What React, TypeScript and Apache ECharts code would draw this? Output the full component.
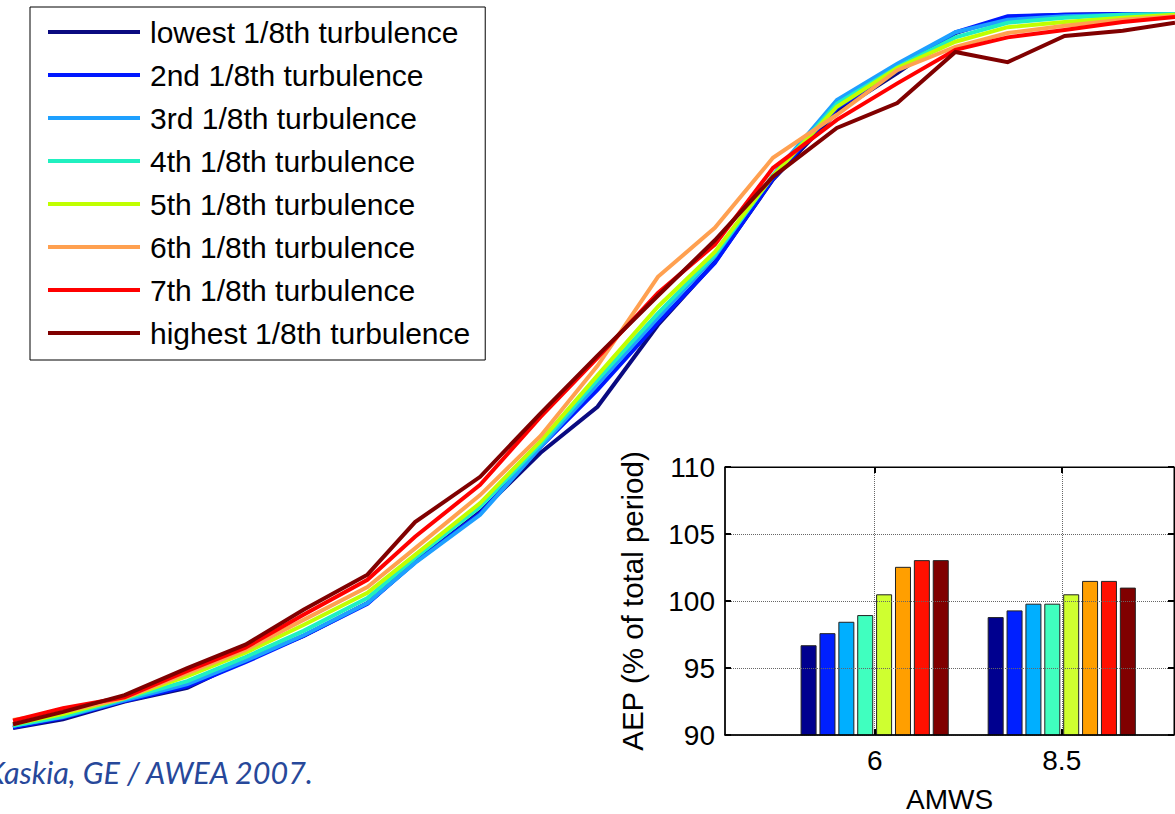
import React, { useEffect, useRef } from 'react';
import * as echarts from 'echarts';

// ---------- data ----------
const seriesNames = [
  'lowest 1/8th turbulence',
  '2nd 1/8th turbulence',
  '3rd 1/8th turbulence',
  '4th 1/8th turbulence',
  '5th 1/8th turbulence',
  '6th 1/8th turbulence',
  '7th 1/8th turbulence',
  'highest 1/8th turbulence',
];

const lineColors = ['#0A0A80', '#0018FF', '#1EA0FF', '#20F0C0', '#C0FF00', '#FFA050', '#FF0000', '#800000'];
const barColors = ['#00008F', '#0020FF', '#00AFFF', '#40FFBF', '#CFFF30', '#FF9F00', '#FF1000', '#800000'];

// wind speed bins (m/s) of the power curves
const windSpeeds = [3, 3.43, 3.96, 4.5, 5, 5.5, 6.05, 6.46, 7.02, 7.54, 8.03, 8.55, 9.04, 9.54, 10.09, 10.61, 11.11, 11.56, 12.05, 12.55, 13];

// normalised power (% of rated) per turbulence class
const powerLowest = [2.2, 3.4, 5.8, 7.7, 11.5, 14.8, 19.3, 24.9, 31.8, 39.9, 46.2, 57.4, 66.0, 77.3, 86.6, 91.9, 97.4, 99.6, 99.9, 100, 100];
const power2nd = [2.3, 3.6, 5.9, 7.9, 11.2, 14.8, 19.2, 24.9, 31.6, 40.7, 48.5, 57.7, 65.9, 77.4, 87.1, 92.3, 97.5, 99.7, 99.9, 100, 100];
const power3rd = [2.5, 3.7, 6.0, 8.2, 11.4, 14.9, 19.3, 24.8, 31.4, 40.7, 49.3, 58.4, 66.8, 77.9, 88.2, 93.2, 97.5, 99.2, 99.7, 99.9, 100];
const power4th = [2.5, 3.8, 6.2, 8.6, 11.9, 15.5, 20.0, 25.5, 32.5, 41.1, 49.9, 59.0, 67.0, 77.8, 87.7, 92.7, 96.8, 98.8, 99.5, 99.9, 100];
const power5th = [2.7, 4.1, 6.3, 9.3, 12.5, 16.3, 20.7, 25.9, 33.0, 41.5, 50.5, 59.9, 67.4, 77.8, 87.3, 92.6, 96.2, 98.2, 98.9, 99.5, 99.9];
const power6th = [3.3, 4.4, 6.3, 9.7, 12.9, 17.0, 21.5, 26.8, 34.1, 42.2, 51.8, 64.0, 70.7, 80.3, 86.2, 92.3, 95.5, 97.4, 98.4, 99.2, 99.7];
const power7th = [3.2, 4.9, 6.4, 10.0, 13.2, 17.7, 22.5, 28.4, 35.5, 44.8, 52.9, 61.8, 68.4, 78.9, 85.5, 90.5, 95.1, 96.8, 97.8, 98.9, 99.6];
const powerHighest = [2.7, 4.4, 6.7, 10.4, 13.6, 18.4, 23.2, 30.4, 36.6, 45.3, 53.2, 61.4, 69.0, 77.7, 84.4, 87.8, 94.8, 93.4, 97.0, 97.7, 98.8];
const powerCurves = [powerLowest, power2nd, power3rd, power4th, power5th, power6th, power7th, powerHighest];

// inset: AEP (% of total period) per AMWS group
const amwsGroups = [6, 8.5];
const aepAt6 = [96.7, 97.6, 98.45, 98.95, 100.5, 102.55, 103.05, 103.05];
const aepAt85 = [98.8, 99.3, 99.8, 99.8, 100.5, 101.5, 101.5, 101.0];
const aepTickStep = 5;
const aepMin = 90;
const aepMax = 110;

const caption = 'Kaskia, GE / AWEA 2007.';

const FONT = '"Liberation Sans", Arial, Helvetica, sans-serif';

export default function App() {
  const ref = useRef<HTMLDivElement>(null);

  useEffect(() => {
    if (!ref.current) return;
    const chart = echarts.init(ref.current, undefined, { renderer: 'svg' });

    const lineSeries = powerCurves.map((vals, i) => ({
      name: seriesNames[i],
      type: 'line',
      xAxisIndex: 0,
      yAxisIndex: 0,
      data: windSpeeds.map((x, j) => [x, vals[j]]),
      symbol: 'none',
      clip: false,
      color: lineColors[i],
      lineStyle: { color: lineColors[i], width: 4, cap: 'butt', join: 'miter' },
      z: 2 + i * 0.01,
    }));

    const barSeries = seriesNames.map((n, i) => ({
      name: n + ' (AEP)',
      type: 'bar',
      xAxisIndex: 1,
      yAxisIndex: 1,
      data: [
        [amwsGroups[0], aepAt6[i]],
        [amwsGroups[1], aepAt85[i]],
      ],
      barWidth: 16,
      barGap: '18%',
      itemStyle: { color: barColors[i], borderColor: '#222', borderWidth: 1 },
      z: 5,
    }));

    const axisTextStyle = { fontSize: 28, color: '#000', fontFamily: FONT };

    chart.setOption({
      animation: false,
      backgroundColor: '#fff',
      textStyle: { fontFamily: FONT },
      grid: [
        { left: 13, top: 14, width: 1162, height: 730, containLabel: false },
        {
          left: 725,
          top: 467,
          width: 449,
          height: 271,
          show: true,
          backgroundColor: '#fff',
          borderColor: '#000',
          borderWidth: 1,
          z: 4,
        },
      ],
      legend: {
        data: seriesNames,
        orient: 'vertical',
        left: 30,
        top: 7,
        icon: 'rect',
        itemWidth: 92,
        itemHeight: 4,
        itemGap: 13,
        padding: [10, 15, 12, 18],
        borderColor: '#000',
        borderWidth: 1,
        backgroundColor: '#fff',
        selectedMode: false,
        textStyle: { fontSize: 30, lineHeight: 30, color: '#000', fontFamily: FONT, padding: [0, 0, 0, 5] },
      },
      xAxis: [
        { gridIndex: 0, type: 'value', min: 3, max: 13, show: false },
        {
          gridIndex: 1,
          type: 'value',
          min: 4,
          max: 10,
          position: 'bottom',
          axisLine: { show: true, onZero: false, lineStyle: { color: '#000', width: 1.5 } },
          axisTick: { show: true, inside: true, length: 6, customValues: amwsGroups, lineStyle: { color: '#000', width: 2 } },
          axisLabel: { ...axisTextStyle, customValues: amwsGroups, margin: 11 },
          splitLine: { show: true, lineStyle: { type: 'dotted', color: '#666', width: 1 } },
          name: 'AMWS',
          nameLocation: 'middle',
          nameGap: 50,
          nameTextStyle: axisTextStyle,
          z: 6,
        },
        {
          gridIndex: 1,
          type: 'value',
          min: 4,
          max: 10,
          position: 'top',
          axisLine: { show: true, onZero: false, lineStyle: { color: '#000', width: 1 } },
          axisTick: { show: true, inside: true, length: 6, customValues: amwsGroups, lineStyle: { color: '#000', width: 2 } },
          axisLabel: { show: false },
          splitLine: { show: false },
          z: 6,
        },
      ],
      yAxis: [
        { gridIndex: 0, type: 'value', min: 0, max: 100, show: false },
        {
          gridIndex: 1,
          type: 'value',
          min: aepMin,
          max: aepMax,
          interval: aepTickStep,
          position: 'left',
          axisLine: { show: true, onZero: false, lineStyle: { color: '#000', width: 1.5 } },
          axisTick: { show: true, inside: true, length: 6, lineStyle: { color: '#000', width: 2 } },
          axisLabel: { ...axisTextStyle, margin: 10 },
          splitLine: { show: true, lineStyle: { type: 'dotted', color: '#666', width: 1 } },
          name: 'AEP (% of total period)',
          nameLocation: 'middle',
          nameRotate: 90,
          nameGap: 78,
          nameTextStyle: { ...axisTextStyle, fontSize: 29.5 },
          z: 6,
        },
        {
          gridIndex: 1,
          type: 'value',
          min: aepMin,
          max: aepMax,
          interval: aepTickStep,
          position: 'right',
          axisLine: { show: true, onZero: false, lineStyle: { color: '#000', width: 1 } },
          axisTick: { show: true, inside: true, length: 6, lineStyle: { color: '#000', width: 2 } },
          axisLabel: { show: false },
          splitLine: { show: false },
          z: 6,
        },
      ],
      graphic: [
        {
          type: 'text',
          x: 313,
          y: 772,
          style: {
            text: caption,
            textAlign: 'right',
            textVerticalAlign: 'middle',
            fontSize: 30.5,
            fontStyle: 'italic',
            fontFamily: 'Lato, "Open Sans", sans-serif',
            fill: '#27489A',
          },
        },
      ],
      series: [...lineSeries, ...barSeries],
    });

    return () => chart.dispose();
  }, []);

  return (
    <div
      ref={ref}
      style={{ position: 'fixed', left: 0, top: 0, width: 1175, height: 814, background: '#fff' }}
    />
  );
}
